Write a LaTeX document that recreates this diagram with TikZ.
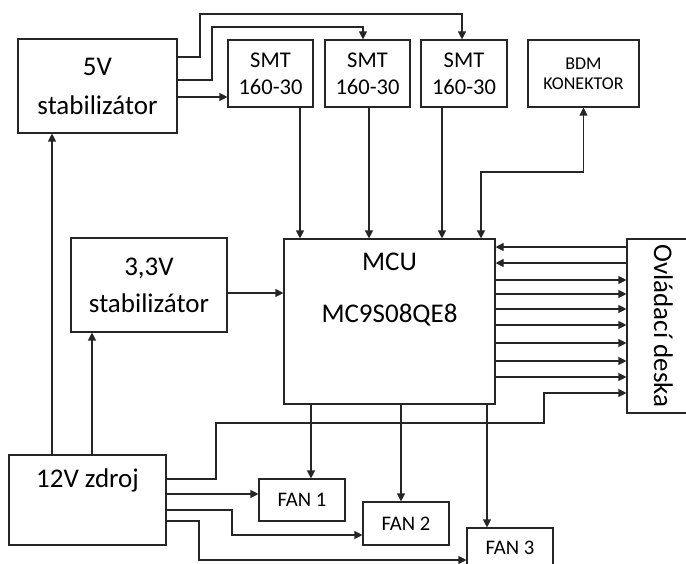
\documentclass[tikz,border=0pt]{standalone}
\usepackage{fontspec}
\setmainfont{Carlito}
\usetikzlibrary{arrows.meta,positioning}

\begin{document}
\begin{tikzpicture}[x=1pt,y=-1pt,line width=1.1pt,
  blok/.style={draw=black!85,inner sep=0pt,align=center},
  velky/.style={font=\fontsize{27}{32}\selectfont},
  stredni/.style={font=\fontsize{22.5}{27}\selectfont},
  maly/.style={font=\fontsize{18}{20}\selectfont},
  fanpis/.style={font=\fontsize{20.7}{24}\selectfont},
  sipka/.style={draw=black!85,-{Triangle[length=8pt,width=8pt]}},
  obe/.style={draw=black!85,{Triangle[length=8pt,width=8pt]}-{Triangle[length=8pt,width=8pt]}},
  spoj/.style={draw=black!85}]
\useasboundingbox (0,0) rectangle (686,564);

\node[blok,velky,minimum width=159,minimum height=94] (stab5) at (97.5,86) {5V\\[7pt]stabilizátor};
\node[blok,stredni,minimum width=85,minimum height=67] (smtA) at (270.5,73.5) {SMT\\160-30};
\node[blok,stredni,minimum width=85,minimum height=67] (smtB) at (367.5,73.5) {SMT\\160-30};
\node[blok,stredni,minimum width=86,minimum height=67] (smtC) at (464,73.5) {SMT\\160-30};
\node[blok,maly,minimum width=111,minimum height=67] (bdm) at (583.5,73.5) {BDM\\KONEKTOR};
\node[blok,velky,minimum width=156,minimum height=94] (stab33) at (149,285) {3,3V\\[5pt]stabilizátor};
\node[blok,minimum width=211,minimum height=165] (mcu) at (389.5,321.5) {};
\node[velky,align=center,inner sep=0pt,below=14pt of mcu.north] (mcupis) {MCU\\[20pt]MC9S08QE8};
\node[blok,minimum width=73,minimum height=174] (ovl) at (663.5,326) {};
\node[velky,rotate=-90,inner sep=0pt] (ovlpis) at (ovl) {Ovládací deska};
\node[blok,minimum width=157,minimum height=90] (zdroj) at (87.5,500) {};
\node[velky,inner sep=0pt,below=14pt of zdroj.north] (zdrojpis) {12V zdroj};
\node[blok,fanpis,minimum width=86,minimum height=42] (fan1) at (302,500) {FAN 1};
\node[blok,fanpis,minimum width=86,minimum height=43] (fan2) at (406,523.5) {FAN 2};
\node[blok,fanpis,minimum width=86,minimum height=40] (fan3) at (510,548) {FAN 3};

\draw[sipka] (stab5.east |- 0,57) -| (200,14) -| ([xshift=-2pt]smtC.north);
\draw[sipka] (stab5.east |- 0,80) -| (212,27) -| ([xshift=-4.5pt]smtB.north);
\draw[sipka] (stab5.east |- 0,97) -- (smtA.west |- 0,97);
\draw[sipka] (smtA.south -| 300,0) -- (mcu.north -| 300,0);
\draw[sipka] (smtB.south -| 369,0) -- (mcu.north -| 369,0);
\draw[sipka] (smtC.south -| 442,0) -- (mcu.north -| 442,0);
\draw[obe] (mcu.north -| 481,0) |- (bdm.south |- 0,172) -- (bdm.south);
\draw[sipka] (stab33.east |- 0,293) -- (mcu.west |- 0,293);
\draw[sipka] (zdroj.north -| 52,0) -- (stab5.south -| 52,0);
\draw[sipka] (zdroj.north -| 92,0) -- (stab33.south -| 92,0);
\foreach \y in {247,263}
  \draw[sipka] (ovl.west |- 0,\y) -- (mcu.east |- 0,\y);
\foreach \y in {280,294,309,325,343,361,377}
  \draw[sipka] (mcu.east |- 0,\y) -- (ovl.west |- 0,\y);
\draw[sipka] (zdroj.east |- 0,479) -| (216,423) -| (544,393) -- (ovl.west |- 0,393);
\draw[sipka] (zdroj.east |- 0,494) -- (fan1.west |- 0,494);
\draw[sipka] (zdroj.east |- 0,510) -| (232,535) -- (fan2.west |- 0,535);
\draw[sipka] (zdroj.east |- 0,521) -| (199,560) -- (fan3.west |- 0,560);
\draw[sipka] (mcu.south -| 311,0) -- (fan1.north -| 311,0);
\draw[sipka] (mcu.south -| 401,0) -- (fan2.north -| 401,0);
\draw[sipka] (mcu.south -| 487,0) -- (fan3.north -| 487,0);
\end{tikzpicture}
\end{document}
